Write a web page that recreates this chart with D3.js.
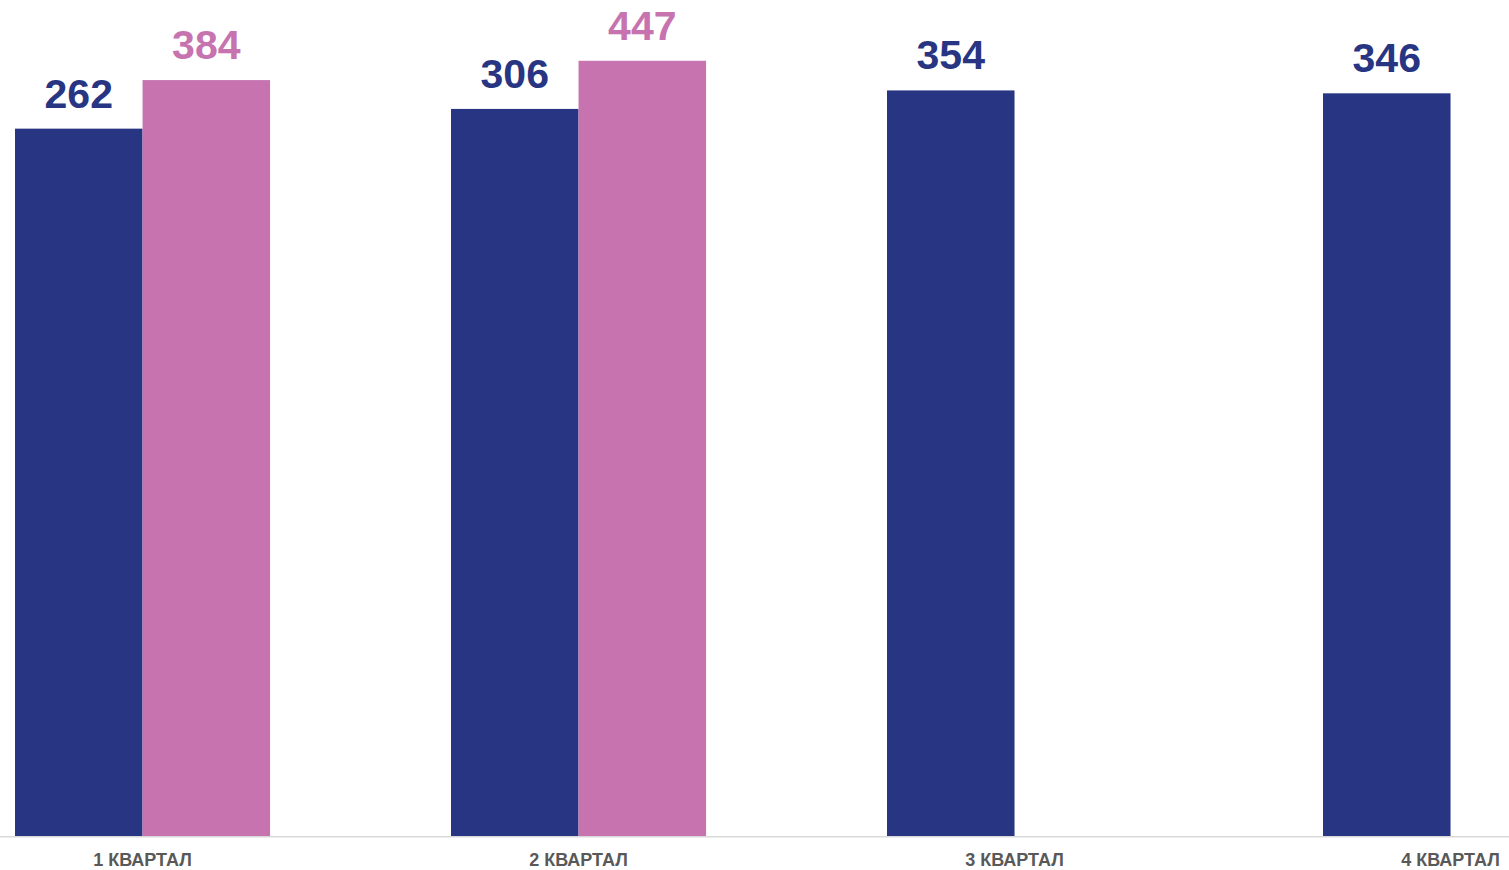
<!DOCTYPE html>
<html>
<head>
<meta charset="utf-8">
<script src="https://cdn.jsdelivr.net/npm/d3@7"></script>
<style>
  body { margin: 0; background: #fff; }
  .value { font-family: "Liberation Sans", Arial, sans-serif; font-weight: bold; font-size: 41px; }
  .cat { font-family: "Liberation Sans", Arial, sans-serif; font-weight: bold; font-size: 18px; fill: #595959; }
</style>
</head>
<body>
<div id="graph1"></div>
<script>
var categories = ["1 КВАРТАЛ", "2 КВАРТАЛ", "3 КВАРТАЛ", "4 КВАРТАЛ"];
var seriesKeys = ["s1", "s2"];
var s1 = [262, 306, 354, 346];
var s2 = [384, 447, null, null];

var initgraph = function() {

var width = 1509,
    height = 870,
    baseline = 836;

var svg = d3.select("#graph1")
  .append("svg")
    .attr("width", width)
    .attr("height", height);

var data = categories.map(function(c, i) {
    return {cat: c, s1: s1[i], s2: s2[i]};
});

// step 436, group 255 wide starting at x=15
var x = d3.scaleBand()
    .domain(categories)
    .range([15, 15 + 436 * (categories.length - 0.415)])
    .paddingInner(0.415)
    .paddingOuter(0);

var xSubgroup = d3.scaleBand()
    .domain(seriesKeys)
    .range([0, x.bandwidth()])
    .padding(0);

// the original axis is logarithmic
var y = d3.scaleLog()
    .domain([1, 1000])
    .range([baseline, baseline - 3 * 292.5]);

var color = d3.scaleOrdinal()
    .domain(seriesKeys)
    .range(["#283583", "#c673b0"]);

var groups = svg.append("g")
  .selectAll("g")
  .data(data)
  .enter()
  .append("g")
    .attr("transform", function(d) { return "translate(" + x(d.cat) + ",0)"; });

var cells = groups.selectAll("g")
    .data(function(d) {
        return seriesKeys
          .map(function(key) { return {key: key, value: d[key]}; })
          .filter(function(e) { return e.value != null; });
    })
    .enter();

cells.append("rect")
    .attr("x", function(d) { return xSubgroup(d.key); })
    .attr("y", function(d) { return y(d.value); })
    .attr("width", xSubgroup.bandwidth())
    .attr("height", function(d) { return baseline - y(d.value); })
    .attr("fill", function(d) { return color(d.key); });

cells.append("text")
    .classed("value", true)
    .attr("text-anchor", "middle")
    .attr("x", function(d) { return xSubgroup(d.key) + xSubgroup.bandwidth() / 2; })
    .attr("y", function(d) { return y(d.value) - 21; })
    .attr("fill", function(d) { return color(d.key); })
    .text(function(d) { return d.value; });

// baseline
svg.append("line")
    .attr("x1", 0)
    .attr("x2", width)
    .attr("y1", baseline + 0.75)
    .attr("y2", baseline + 0.75)
    .attr("stroke", "#d9d9d9")
    .attr("stroke-width", 1.5);

svg.append("g")
  .selectAll("text")
  .data(categories)
  .enter()
  .append("text")
    .classed("cat", true)
    .attr("text-anchor", "middle")
    .attr("x", function(d) { return x(d) + x.bandwidth() / 2; })
    .attr("y", 866)
    .text(function(d) { return d; });
}

initgraph();
</script>
</body>
</html>
